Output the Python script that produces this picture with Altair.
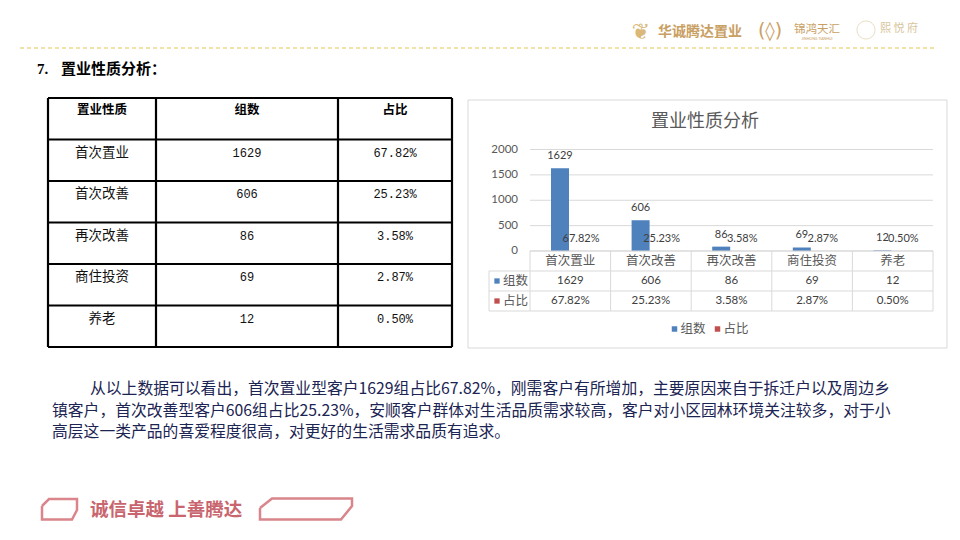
import altair as alt
import pandas as pd

# ---------------- data ----------------
categories = ["首次置业", "首次改善", "再次改善", "商住投资", "养老"]
counts = [1629, 606, 86, 69, 12]
shares = [67.82, 25.23, 3.58, 2.87, 0.50]
series = ["组数", "占比"]
y_ticks = [0, 500, 1000, 1500, 2000]
table_header = ["置业性质", "组数", "占比"]
section_no = "7."
section_title = "置业性质分析："
chart_title = "置业性质分析"
paragraph = [
    "从以上数据可以看出，首次置业型客户1629组占比67.82%，刚需客户有所增加，主要原因来自于拆迁户以及周边乡",
    "镇客户，首次改善型客户606组占比25.23%，安顺客户群体对生活品质需求较高，客户对小区园林环境关注较多，对于小",
    "高层这一类产品的喜爱程度很高，对更好的生活需求品质有追求。",
]
slogan = "诚信卓越 上善腾达"

# ---------------- helpers ----------------
O = 8  # page margin: screenshot coords -> chart coords
CJK = "Noto Sans CJK SC"
NUM = "Lato"
BLUE = "#4F81BD"
RED = "#C0504D"
GOLD = "#c9a063"
GRID = "#d9d9d9"

share_txt = [f"{s:.2f}%" for s in shares]
df = pd.DataFrame({"cat": categories, "count": counts, "share": share_txt,
                   "count_txt": [str(c) for c in counts]})
long = pd.DataFrame({
    "cat": categories * 2,
    "series": ["组数"] * len(categories) + ["占比"] * len(categories),
    "val": counts + [s / 100 for s in shares],
    "label": [str(c) for c in counts] + share_txt,
})
ticks_df = pd.DataFrame({"v": y_ticks, "lab": [str(v) for v in y_ticks]})


def T(x, y, s, **kw):
    kw.setdefault("baseline", "middle")
    return alt.Chart(pd.DataFrame({"t": [s]})).mark_text(**kw).encode(
        x=alt.value(x - O), y=alt.value(y - O), text="t:N")


def segs(lst, **kw):
    d = pd.DataFrame([{"x": a - O, "x2": b - O, "y": c - O, "y2": e - O} for a, b, c, e in lst])
    return alt.Chart(d).mark_rule(**kw).encode(
        x=alt.X("x:Q", scale=None, axis=None), x2="x2:Q",
        y=alt.Y("y:Q", scale=None, axis=None), y2="y2:Q")


def poly(pts, **kw):
    d = pd.DataFrame([{"i": i, "px": p[0] - O, "py": p[1] - O} for i, p in enumerate(pts)])
    return alt.Chart(d).mark_line(**kw).encode(
        x=alt.X("px:Q", scale=None, axis=None),
        y=alt.Y("py:Q", scale=None, axis=None),
        order="i:Q")


layers = []

# ---------------- header ----------------
layers.append(segs([(20, 935, 48, 48)], color="#f0d78a", strokeWidth=1.5, strokeDash=[4, 3]))
layers.append(T(700, 32, "华诚腾达置业", font=CJK, fontSize=14, fontWeight="bold", color=GOLD))
layers.append(T(641, 32, "❦", font="DejaVu Sans", fontSize=22, color="#d9b878"))
layers.append(T(770, 31, "(◊)", font="DejaVu Sans", fontSize=19, color=GOLD))
layers.append(T(817, 30, "锦鸿天汇", font=CJK, fontSize=11.5, color=GOLD))
layers.append(T(817, 39, "JINHONG TIANHUI", font=NUM, fontSize=3.5, color=GOLD))
layers.append(alt.Chart(pd.DataFrame({"t": [1]})).mark_point(
    shape="circle", size=330, filled=False, color="#e2d2ac", strokeWidth=1).encode(
    x=alt.value(866 - O), y=alt.value(30 - O)))
layers.append(T(899, 29, "熙 悦 府", font=CJK, fontSize=11, color="#d8c59c"))

# ---------------- section title ----------------
layers.append(T(37, 69, section_no, font="Liberation Serif", fontSize=15, fontWeight="bold",
                color="#000000", align="left"))
layers.append(T(61, 69, section_title, font=CJK, fontSize=15, fontWeight="bold",
                color="#000000", align="left"))

# ---------------- left table ----------------
tx = [48, 156, 338, 452]
ty = [98, 139.5, 181, 222.5, 264, 305.5, 347]
lines = [(tx[0], tx[-1], y, y) for y in ty] + [(x, x, ty[0], ty[-1]) for x in tx]
layers.append(segs(lines, color="#000000", strokeWidth=2.2))
col_c = [102, 247, 395]
for cx, h in zip(col_c, table_header):
    layers.append(T(cx, 110, h, font=CJK, fontSize=12.5, fontWeight="bold", color="#000000"))
row_scale = alt.Scale(type="point", domain=categories, range=[152.5 - O, 318.5 - O], padding=0)
layers.append(alt.Chart(df).mark_text(font=CJK, fontSize=13.5, color="#111111", baseline="middle").encode(
    x=alt.value(col_c[0] - O), y=alt.Y("cat:N", scale=row_scale, axis=None), text="cat:N"))
layers.append(alt.Chart(df).mark_text(font="Liberation Mono", fontSize=12, color="#111111", baseline="middle").encode(
    x=alt.value(col_c[1] - O), y=alt.Y("cat:N", scale=row_scale, axis=None), text="count_txt:N"))
layers.append(alt.Chart(df).mark_text(font="Liberation Mono", fontSize=12, color="#111111", baseline="middle").encode(
    x=alt.value(col_c[2] - O), y=alt.Y("cat:N", scale=row_scale, axis=None), text="share:N"))

# ---------------- right chart ----------------
layers.append(alt.Chart(pd.DataFrame({"t": [1]})).mark_rect(
    fillOpacity=0, stroke=GRID, strokeWidth=1).encode(
    x=alt.value(468 - O), x2=alt.value(947 - O), y=alt.value(100 - O), y2=alt.value(348 - O)))
layers.append(T(705, 122, chart_title, font=CJK, fontSize=18, color="#595959"))

xs = alt.Scale(type="band", domain=categories, range=[530 - O, 933 - O], paddingInner=0, paddingOuter=0)
xo = alt.Scale(type="band", domain=series, range=[21, 57], paddingInner=0, paddingOuter=0)
ys = alt.Scale(domain=[0, 2000], range=[251 - O, 149.5 - O], nice=False, zero=True)

layers.append(alt.Chart(ticks_df).mark_rule(color=GRID, strokeWidth=1).encode(
    y=alt.Y("v:Q", scale=ys, axis=None), x=alt.value(530 - O), x2=alt.value(933 - O)))
layers.append(alt.Chart(ticks_df).mark_text(font=NUM, fontSize=11.5, color="#595959",
                                            align="right", baseline="middle").encode(
    y=alt.Y("v:Q", scale=ys, axis=None), x=alt.value(518 - O), text="lab:N"))

layers.append(alt.Chart(long).mark_bar().encode(
    x=alt.X("cat:N", scale=xs, axis=None),
    xOffset=alt.XOffset("series:N", scale=xo),
    y=alt.Y("val:Q", scale=ys, axis=None),
    color=alt.Color("series:N", scale=alt.Scale(domain=series, range=[BLUE, RED]), legend=None)))
# data labels: counts above bars, shares just right of them
layers.append(alt.Chart(long).transform_filter(alt.datum.series == "组数").mark_text(
    font=NUM, fontSize=11, color="#404040", dy=-12, baseline="middle").encode(
    x=alt.X("cat:N", scale=xs, axis=None),
    xOffset=alt.XOffset("series:N", scale=xo),
    y=alt.Y("val:Q", scale=ys, axis=None),
    text="label:N"))
layers.append(alt.Chart(long).transform_filter(alt.datum.series == "占比").mark_text(
    font=NUM, fontSize=11, color="#404040", dy=-12, dx=3, baseline="middle").encode(
    x=alt.X("cat:N", scale=xs, axis=None),
    xOffset=alt.XOffset("series:N", scale=xo),
    y=alt.Y("val:Q", scale=ys, axis=None),
    text="label:N"))

# data table under the chart
layers.append(segs([(530, 933, 251, 251), (489, 933, 271, 271), (489, 933, 291, 291), (489, 933, 311, 311),
                    (489, 489, 271, 311), (530, 530, 251, 311)], color=GRID, strokeWidth=1))
layers.append(alt.Chart(df).mark_rule(color=GRID, strokeWidth=1).encode(
    x=alt.X("cat:N", scale=xs, axis=None, bandPosition=1),
    y=alt.value(251 - O), y2=alt.value(311 - O)))
layers.append(alt.Chart(df).mark_text(font=CJK, fontSize=12.5, color="#595959", baseline="middle").encode(
    x=alt.X("cat:N", scale=xs, axis=None), y=alt.value(261 - O), text="cat:N"))
layers.append(alt.Chart(df).mark_text(font=NUM, fontSize=11.5, color="#404040", baseline="middle").encode(
    x=alt.X("cat:N", scale=xs, axis=None), y=alt.value(281 - O), text="count_txt:N"))
layers.append(alt.Chart(df).mark_text(font=NUM, fontSize=11.5, color="#404040", baseline="middle").encode(
    x=alt.X("cat:N", scale=xs, axis=None), y=alt.value(301 - O), text="share:N"))

leg = pd.DataFrame({"series": series})
row_leg = alt.Scale(type="point", domain=series, range=[281 - O, 301 - O], padding=0)
layers.append(alt.Chart(leg).mark_square(size=28, opacity=1).encode(
    x=alt.value(497 - O),
    y=alt.Y("series:N", scale=row_leg, axis=None),
    color=alt.Color("series:N", scale=alt.Scale(domain=series, range=[BLUE, RED]), legend=None)))
layers.append(alt.Chart(leg).mark_text(font=CJK, fontSize=12.5, color="#595959", align="left", baseline="middle").encode(
    x=alt.value(503 - O),
    y=alt.Y("series:N", scale=row_leg, axis=None),
    text="series:N"))

# bottom legend
leg_x = alt.Scale(type="point", domain=series, range=[674.5 - O, 717.5 - O], padding=0)
layers.append(alt.Chart(leg).mark_square(size=30, opacity=1).encode(
    x=alt.X("series:N", scale=leg_x, axis=None), y=alt.value(329 - O),
    color=alt.Color("series:N", scale=alt.Scale(domain=series, range=[BLUE, RED]), legend=None)))
layers.append(alt.Chart(leg).mark_text(font=CJK, fontSize=12.5, color="#595959", align="left",
                                       baseline="middle", dx=6).encode(
    x=alt.X("series:N", scale=leg_x, axis=None), y=alt.value(329 - O), text="series:N"))

# ---------------- paragraph ----------------
PCOL = "#1b2452"
layers.append(T(90, 389, paragraph[0], font=CJK, fontSize=15.8, color=PCOL, align="left"))
layers.append(T(52, 410.5, paragraph[1], font=CJK, fontSize=15.8, color=PCOL, align="left"))
layers.append(T(52, 432, paragraph[2], font=CJK, fontSize=15.8, color=PCOL, align="left"))

# ---------------- footer ----------------
PINK = "#d9858b"
layers.append(poly([(42, 506), (49, 499), (77, 499), (77, 510), (72, 519.5), (42, 519.5), (42, 506)],
                   color=PINK, strokeWidth=2.5))
layers.append(poly([(260, 508), (272, 498.5), (352, 498.5), (352, 506), (341, 519.5), (260, 519.5), (260, 508)],
                   color=PINK, strokeWidth=2.5))
layers.append(T(90, 510, slogan, font=CJK, fontSize=18.5, fontWeight="bold", color="#c8656e", align="left"))

chart = alt.layer(*layers).resolve_scale(
    x="independent", y="independent", color="independent"
).properties(
    width=944, height=524, padding=0, autosize="none", background="white"
).configure_view(strokeWidth=0)

chart.save("out.html", embed_options={"renderer": "svg", "actions": False})
